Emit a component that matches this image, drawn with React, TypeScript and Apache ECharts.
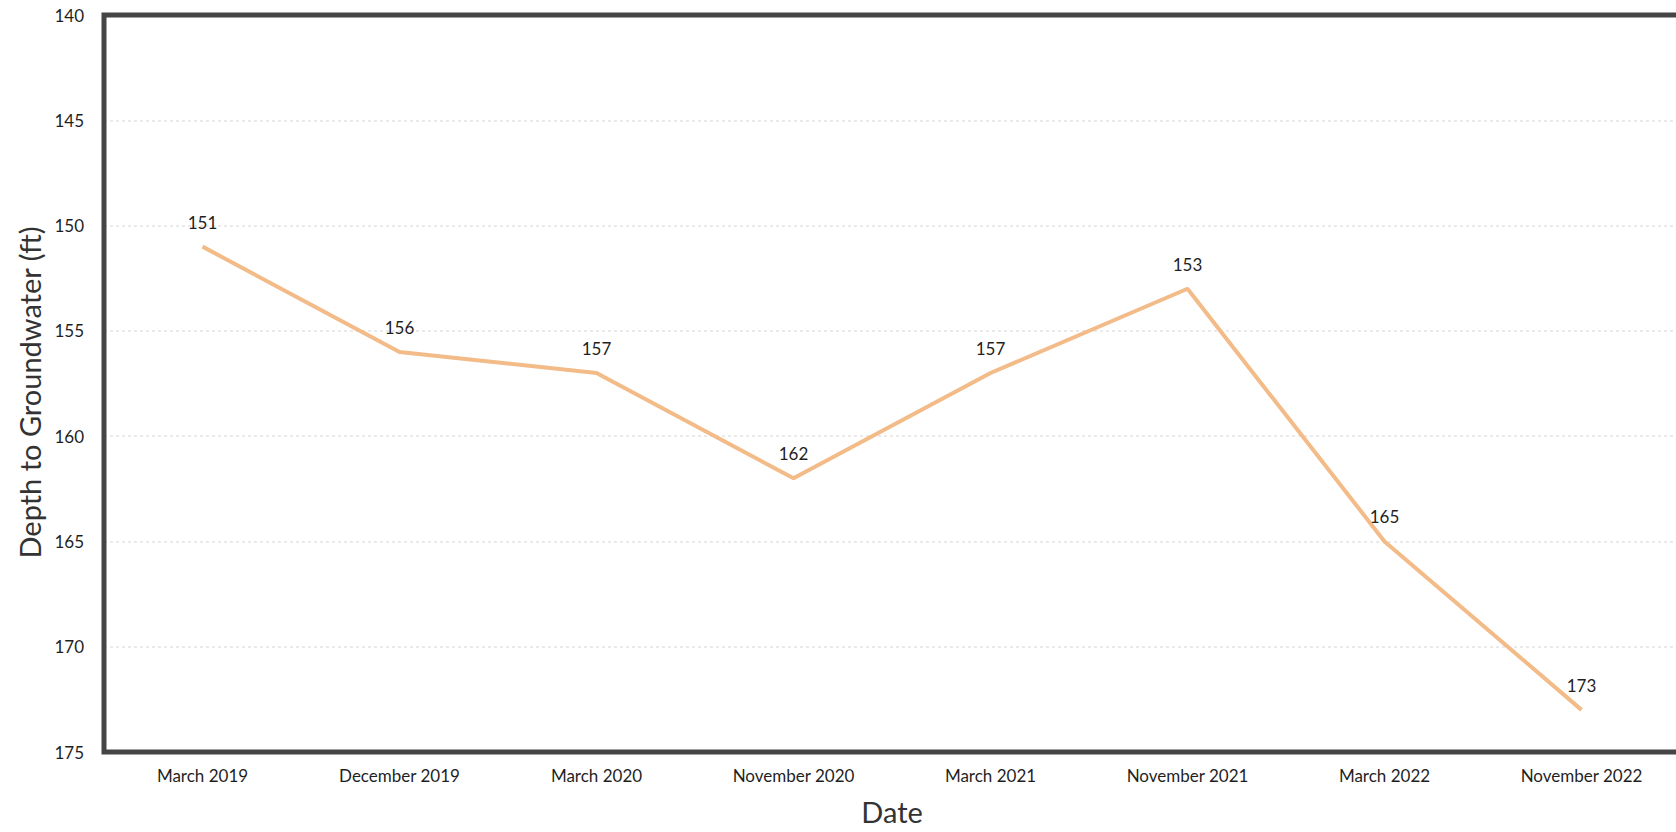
import React, { useEffect, useRef } from "react";
import * as echarts from "echarts";

const categories = [
  "March 2019",
  "December 2019",
  "March 2020",
  "November 2020",
  "March 2021",
  "November 2021",
  "March 2022",
  "November 2022",
];
const depthValues = [151, 156, 157, 162, 157, 153, 165, 173];
const yMin = 140;
const yMax = 175;
const yInterval = 5;

const FONT = "Lato, 'Liberation Sans', sans-serif";

export default function App() {
  const ref = useRef<HTMLDivElement>(null);
  useEffect(() => {
    document.body.style.margin = "0";
    if (!ref.current) return;
    const chart = echarts.init(ref.current, undefined, { renderer: "svg" });
    chart.setOption({
      animation: false,
      backgroundColor: "#ffffff",
      textStyle: { fontFamily: FONT },
      grid: {
        left: 104,
        top: 15,
        right: -4,
        bottom: 80,
        containLabel: false,
        outerBoundsMode: "none",
        show: true,
        borderColor: "#454545",
        borderWidth: 5,
        backgroundColor: "transparent",
        z: 3,
      },
      xAxis: {
        type: "category",
        data: categories,
        boundaryGap: true,
        axisLine: { show: false },
        axisTick: { show: false },
        axisLabel: {
          color: "#1f1f1f",
          fontSize: 17,
          fontFamily: FONT,
          margin: 15,
          interval: 0,
        },
        name: "Date",
        nameLocation: "middle",
        nameGap: 45,
        nameTextStyle: { fontSize: 29, color: "#333333", fontFamily: FONT },
      },
      yAxis: {
        type: "value",
        inverse: true,
        min: yMin,
        max: yMax,
        interval: yInterval,
        axisLine: { show: false },
        axisTick: { show: false },
        axisLabel: {
          color: "#1f1f1f",
          fontSize: 17,
          fontFamily: FONT,
          margin: 20,
        },
        splitLine: {
          show: true,
          showMinLine: false,
          showMaxLine: false,
          lineStyle: { color: "#e4e4e4", type: [3, 3], width: 1.5 },
        },
        name: "Depth to Groundwater (ft)",
        nameLocation: "middle",
        nameGap: 52,
        nameTextStyle: {
          fontSize: 29,
          color: "#333333",
          fontFamily: FONT,
          padding: [0, 18, 0, 0],
        },
      },
      series: [
        {
          type: "line",
          data: depthValues,
          showSymbol: true,
          symbol: "circle",
          symbolSize: 2,
          itemStyle: { color: "rgba(0,0,0,0)", borderWidth: 0 },
          lineStyle: { color: "#f2bb88", width: 4 },
          label: {
            show: true,
            position: "top",
            distance: 15,
            color: "#1f1f1f",
            fontSize: 17,
            fontFamily: FONT,
          },
        },
      ],
    });
    return () => chart.dispose();
  }, []);
  return <div ref={ref} style={{ width: 1676, height: 832 }} />;
}
